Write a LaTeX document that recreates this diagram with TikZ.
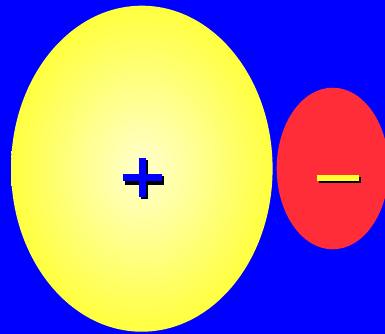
\documentclass[tikz,border=0pt]{standalone}
\usepackage{xcolor}
\usepackage{tikz}
\usetikzlibrary{calc}
\definecolor{chargebg}{RGB}{0,0,255}
\definecolor{posyellow}{RGB}{255,255,51}
\definecolor{poslight}{RGB}{255,255,205}
\definecolor{negred}{RGB}{255,45,56}
\pgfdeclareradialshading{posglow}{\pgfpoint{0bp}{0bp}}{%
  color(0bp)=(poslight); color(7bp)=(poslight!75!posyellow);
  color(27bp)=(posyellow); color(50bp)=(posyellow)}

\begin{document}
\begin{tikzpicture}[x=1pt, y=-1pt,
    signbar/.style={fill=chargebg},
    minusbar/.style={fill=posyellow},
    shadowbar/.style={fill=black},
]
    % background
    \fill[chargebg] (0,0) rectangle (385,334);
    \useasboundingbox (0,0) rectangle (385,334);

    % positive charge
    \shade[shading=posglow] (141.8,168.7) ellipse [x radius=130.8, y radius=163];
    \coordinate (plus) at (142.5,177.5);
    \fill[shadowbar] ($(plus)+(-17.2,-1.5)$) rectangle ($(plus)+(21.2,7.5)$);
    \fill[shadowbar] ($(plus)+(-1.5,-17.2)$) rectangle ($(plus)+(5.5,21.2)$);
    \fill[signbar] ($(plus)+(-19.2,-3.5)$) rectangle ($(plus)+(19.2,3.5)$);
    \fill[signbar] ($(plus)+(-3.5,-19.2)$) rectangle ($(plus)+(3.5,19.2)$);

    % negative charge
    \fill[negred] (332.7,168.5) ellipse [x radius=56, y radius=80.8];
    \coordinate (minus) at (338.2,177.8);
    \fill[shadowbar] ($(minus)+(-18.9,-0.8)$) rectangle ($(minus)+(22.9,4.9)$);
    \fill[minusbar] ($(minus)+(-20.9,-2.8)$) rectangle ($(minus)+(20.9,2.9)$);
\end{tikzpicture}
\end{document}
